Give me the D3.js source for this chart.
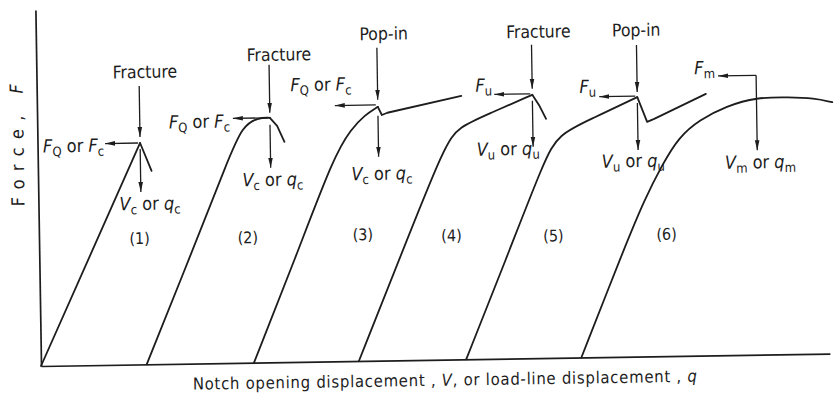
<!DOCTYPE html>
<html><head><meta charset="utf-8">
<script src="https://cdn.jsdelivr.net/npm/d3@7"></script>
<style>
html,body{margin:0;padding:0;background:#fff;}
svg{display:block;}
text{font-family:"DejaVu Sans Condensed","DejaVu Sans",sans-serif;fill:#1d1d1d;}
</style></head><body>
<svg id="chart" width="835" height="394"></svg>
<script>
// Force–displacement records, [displacement, force] in relative units.
// "Rise" runs up to the characteristic point, "Tail" is what follows it.
const curve1Rise = [[0,0],[13.0,62.2]];
const curve1Tail = [[13.0,62.2],[14.4,54.3]];
const curve2Rise = [[13.4,0],[19.1,30.0],[24.1,57.0],[26.0,66.5],[28.0,68.8],[29.5,68.7]];
const curve2Tail = [[29.5,68.7],[30.4,66.4],[31.3,61.9]];
const curve3Rise = [[27.0,0],[32.4,28.9],[37.6,58.0],[39.8,65.2],[41.5,69.0],[43.2,71.3]];
const curve3Tail = [[43.2,71.3],[43.7,69.0],[44.4,69.6],[53.8,74.0]];
const curve4Rise = [[40.3,0],[45.9,29.9],[51.6,60.3],[53.4,65.3],[57.3,68.9],[62.8,74.0]];
const curve4Tail = [[62.8,74.0],[63.7,70.8],[64.5,67.2]];
const curve5Rise = [[53.9,0],[59.1,27.7],[64.2,55.6],[66.0,62.8],[70.4,67.1],[76.1,72.9]];
const curve5Tail = [[76.1,72.9],[77.3,65.9],[78.2,66.7],[84.8,73.5]];
const curve6Rise = [[68.5,0],[74.2,30.8],[76.8,44.0],[79.1,53.7],[81.3,61.5],[83.9,66.2],[87.4,70.0],[91.2,72.3],[95.3,72.2],[98.5,71.8],[100.8,70.6]];
const curve6Tail = [];

// Labels (*x* = italic, _x = subscript)
const curveNames  = ["(1)","(2)","(3)","(4)","(5)","(6)"];
const eventLabels = ["Fracture","Fracture","Pop-in","Fracture","Pop-in",""];
const forceLabels = ["*F*_Q or *F*_c","*F*_Q or *F*_c","*F*_Q or *F*_c","*F*_u","*F*_u","*F*_m"];
const dispLabels  = ["*V*_c or *q*_c","*V*_c or *q*_c","*V*_c or *q*_c","*V*_u or *q*_u","*V*_u or *q*_u","*V*_m or *q*_m"];
const xTitle = "Notch opening displacement , *V*, or load-line displacement , *q*";
const yTitle = "Force, *F*";

const ink = "#1d1d1d";
const svg = d3.select("#chart");
svg.append("rect").attr("width",835).attr("height",394).attr("fill","#fff");

const defs = svg.append("defs");
defs.append("marker").attr("id","head")
  .attr("viewBox","0 -3 10 6").attr("refX",10).attr("refY",0)
  .attr("markerWidth",10).attr("markerHeight",6)
  .attr("markerUnits","userSpaceOnUse").attr("orient","auto")
  .append("path").attr("d","M0,-2.3L10,0L0,2.3Z").attr("fill",ink);

// plot frame: origin at lower-left corner, drawn with a slight tilt
const g = svg.append("g").attr("transform","translate(41,366) rotate(-0.9)");

const x = d3.scaleLinear().domain([0,100]).range([0,789]);
const y = d3.scaleLinear().domain([0,100]).range([0,-356]);

const xAxis = g.append("g").call(d3.axisBottom(x).tickValues([]).tickSizeOuter(0));
const yAxis = g.append("g").call(d3.axisLeft(y).tickValues([]).tickSizeOuter(0));
[xAxis,yAxis].forEach(a=>a.select(".domain").attr("stroke",ink).attr("stroke-width",1.7));

function rich(textSel, str, subSize, subShift){
  const re=/\*([^*]+)\*|_(\w)|([^*_]+)/g;
  let m, shifted=false;
  while((m=re.exec(str))){
    const t=textSel.append("tspan");
    const isSub = m[2]!==undefined;
    if(m[1]!==undefined) t.text(m[1]).style("font-style","italic");
    else if(isSub) t.text(m[2]).attr("font-size",subSize);
    else t.text(m[3]);
    if(isSub!==shifted){ t.attr("dy", isSub?subShift:-subShift); shifted=isSub; }
  }
  return textSel;
}

// axis titles
rich(g.append("text").attr("x",x.range()[1]/2+9).attr("y",26)
  .attr("text-anchor","middle").attr("font-size",16.5)
  .attr("textLength",504).attr("lengthAdjust","spacing"), xTitle, 13, 4);
rich(g.append("text").attr("transform","translate(-14,-221) rotate(-90)")
  .attr("text-anchor","middle").attr("font-size",18)
  .attr("textLength",122).attr("lengthAdjust","spacing"), yTitle, 13, 4);

const smooth = d3.line().x(d=>x(d[0])).y(d=>y(d[1])).curve(d3.curveBasis);
const straight = d3.line().x(d=>x(d[0])).y(d=>y(d[1]));

const curves = [
  {rise:curve1Rise, tail:curve1Tail},
  {rise:curve2Rise, tail:curve2Tail},
  {rise:curve3Rise, tail:curve3Tail},
  {rise:curve4Rise, tail:curve4Tail},
  {rise:curve5Rise, tail:curve5Tail},
  {rise:curve6Rise, tail:curve6Tail}
];

// annotation placement, pixel offsets from each curve's characteristic point
const place = [
  {ev:[6,-65], evArr:[-57,-6], f:[-36,8],  fArr:[-35,0],  dArr:[6,49], d:[9,67],  name:[-2,101]},
  {ev:[10,-57],evArr:[-53,-5], f:[-40,9],  fArr:[-37,0],  dArr:[7,50], d:[2,68],  name:[-24,125]},
  {ev:[7,-67], evArr:[-59,-7], f:[-26,-17],fArr:[-43,-2], dArr:[9,50], d:[3,73],  name:[-17,133]},
  {ev:[7,-57], evArr:[-50,-6], f:[-40,-4], fArr:[-38,-1], dArr:[6,52], d:[-25,60],name:[-83,145]},
  {ev:[0,-61], evArr:[-52,-5], f:[-41,-5], fArr:[-38,-1], dArr:[6,53], d:[-5,70], name:[-86,143]},
  {bracket:-22,f:[-41,-24],fArr:[-38,-22],dArr:[-22,53],d:[3,71], name:[-92,141]}
];

const curveLayer = g.append("g").attr("fill","none").attr("stroke",ink)
  .attr("stroke-width",1.8).attr("stroke-linejoin","round").attr("stroke-linecap","round");
const ann = g.append("g");

function arrow(x1,y1,x2,y2){
  ann.append("line").attr("x1",x1).attr("y1",y1).attr("x2",x2).attr("y2",y2)
    .attr("stroke",ink).attr("stroke-width",1.3).attr("marker-end","url(#head)");
}

curves.forEach((c,i)=>{
  curveLayer.append("path").attr("d",smooth(c.rise));
  if(c.tail.length) curveLayer.append("path").attr("d",straight(c.tail));

  // characteristic point: end of the rise, or the force maximum
  const pt = c.tail.length ? c.rise[c.rise.length-1] : c.rise[d3.maxIndex(c.rise,d=>d[1])];
  const ax = x(pt[0]), ay = y(pt[1]);
  const p = place[i];

  if(eventLabels[i]){
    ann.append("text").attr("x",ax+p.ev[0]).attr("y",ay+p.ev[1])
      .attr("text-anchor","middle").attr("font-size",17.5).text(eventLabels[i]);
    arrow(ax, ay+p.evArr[0], ax, ay+p.evArr[1]);
  }
  rich(ann.append("text").attr("x",ax+p.f[0]).attr("y",ay+p.f[1])
    .attr("text-anchor","end").attr("font-size",18), forceLabels[i], 13, 4);
  if(p.bracket!==undefined){
    arrow(ax, ay+p.bracket, ax+p.fArr[0], ay+p.fArr[1]);
    arrow(ax, ay+p.bracket, ax, ay+p.dArr[1]);
  } else {
    arrow(ax-2, ay+p.fArr[1], ax+p.fArr[0], ay+p.fArr[1]);
    arrow(ax, ay+p.dArr[0], ax, ay+p.dArr[1]);
  }
  rich(ann.append("text").attr("x",ax+p.d[0]).attr("y",ay+p.d[1])
    .attr("text-anchor","middle").attr("font-size",18), dispLabels[i], 13, 4);
  ann.append("text").attr("x",ax+p.name[0]).attr("y",ay+p.name[1])
    .attr("text-anchor","middle").attr("font-size",16).text(curveNames[i]);
});
</script>
</body></html>
